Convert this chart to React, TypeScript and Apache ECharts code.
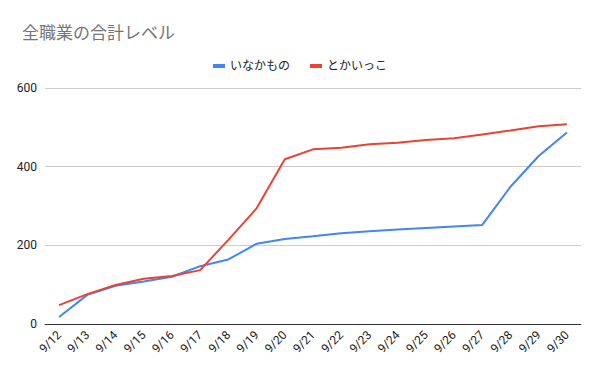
import React, { useEffect, useRef } from "react";
import * as echarts from "echarts";

const categories = ["9/12","9/13","9/14","9/15","9/16","9/17","9/18","9/19","9/20","9/21","9/22","9/23","9/24","9/25","9/26","9/27","9/28","9/29","9/30"];
const inakamono = [18,74,97,108,120,147,164,204,216,223,231,236,240,244,248,252,349,427,487];
const tokaikko = [48,76,99,115,122,137,214,294,419,444,448,457,461,468,472,482,492,503,508];
const seriesNames = ["いなかもの", "とかいっこ"];
const titleText = "全職業の合計レベル";

export default function App() {
  const ref = useRef<HTMLDivElement>(null);
  useEffect(() => {
    const chart = echarts.init(ref.current!, null, { renderer: "svg" });
    const font = "Roboto, 'Liberation Sans', 'Noto Sans CJK JP', sans-serif";
    chart.setOption({
      animation: false,
      title: {
        text: titleText,
        left: 17,
        top: 19,
        textStyle: { color: "#757575", fontSize: 17, fontWeight: "normal", fontFamily: font },
      },
      legend: {
        top: 55,
        left: "center",
        icon: "rect",
        itemWidth: 12,
        itemHeight: 4,
        itemGap: 20,
        textStyle: { color: "#222", fontSize: 12, fontFamily: font },
        data: seriesNames,
      },
      grid: { left: 45, right: 19, top: 88, bottom: 47, containLabel: false },
      xAxis: {
        type: "category",
        data: categories,
        boundaryGap: true,
        axisLine: { lineStyle: { color: "#333", width: 1 } },
        axisTick: { show: false },
        axisLabel: { rotate: 45, color: "#222", fontSize: 12, fontFamily: font, interval: 0, margin: 9 },
      },
      yAxis: {
        type: "value",
        min: 0,
        max: 600,
        interval: 200,
        axisLine: { show: false },
        axisTick: { show: false },
        axisLabel: { color: "#222", fontSize: 12, fontFamily: font, margin: 8 },
        splitLine: { lineStyle: { color: "#cccccc" } },
      },
      series: [
        { name: seriesNames[0], type: "line", data: inakamono, showSymbol: false, symbol: "none", lineStyle: { color: "#4285f4", width: 2 }, itemStyle: { color: "#4285f4" } },
        { name: seriesNames[1], type: "line", data: tokaikko, showSymbol: false, symbol: "none", lineStyle: { color: "#ea4335", width: 2 }, itemStyle: { color: "#ea4335" } },
      ],
    });
    return () => chart.dispose();
  }, []);
  return <div ref={ref} style={{ width: 600, height: 371, position: "absolute", left: 0, top: 0 }} />;
}
